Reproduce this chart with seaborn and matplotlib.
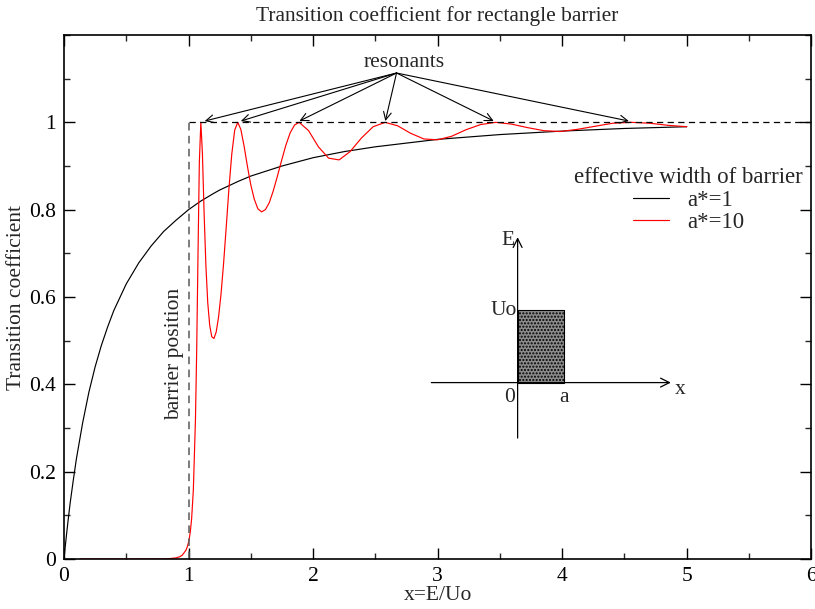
import pandas as pd
import seaborn as sns
import matplotlib.pyplot as plt
from matplotlib.patches import Rectangle
from matplotlib.ticker import MultipleLocator, FixedLocator, FormatStrFormatter

# a* = 1 curve
x_a1 = [0, 0.005, 0.01, 0.02, 0.035, 0.05, 0.075, 0.1, 0.15, 0.2, 0.25, 0.3,
        0.35, 0.4, 0.5, 0.6, 0.7, 0.8, 0.9, 1.0, 1.1, 1.2, 1.25, 1.4, 1.5,
        1.75, 2.0, 2.25, 2.5, 3.0, 3.5, 4.0, 4.5, 5.0]
t_a1 = [0, 0.014, 0.028, 0.055, 0.093, 0.129, 0.181, 0.23, 0.312, 0.382,
        0.44, 0.489, 0.531, 0.569, 0.63, 0.678, 0.717, 0.750, 0.776, 0.800,
        0.820, 0.837, 0.845, 0.865, 0.877, 0.900, 0.919, 0.933, 0.944, 0.961,
        0.972, 0.980, 0.986, 0.990]

# a* = 10 curve
x_a10 = [0.13, 0.5, 0.8, 0.85, 0.9, 0.93, 0.95, 0.98, 0.99, 1.0, 1.0015,
         1.0062, 1.0139, 1.0247, 1.0386, 1.0555, 1.0652, 1.0756, 1.0867,
         1.0987, 1.1114, 1.1249, 1.1392, 1.1542, 1.1700, 1.1866, 1.2039,
         1.2221, 1.2410, 1.2606, 1.2811, 1.3023, 1.3242, 1.3470, 1.3705,
         1.3948, 1.4198, 1.4457, 1.4723, 1.4997, 1.5278, 1.5567, 1.5864,
         1.6169, 1.6481, 1.6801, 1.7128, 1.7464, 1.7807, 1.8158, 1.8516,
         1.8883, 1.9638, 2.0425, 2.1242, 2.2090, 2.2969, 2.3879, 2.4820,
         2.5791, 2.6794, 2.7827, 2.8890, 2.9986, 3.1112, 3.2269, 3.3455,
         3.4674, 3.5924, 3.7203, 3.8514, 3.9856, 4.1227, 4.2631, 4.4065,
         4.5531, 4.7025, 4.8553, 5.0]
t_a10 = [0.0, 0.0, 0.0003, 0.0009, 0.0026, 0.0053, 0.0088, 0.0205, 0.0279,
         0.0385, 0.0405, 0.0473, 0.0619, 0.0918, 0.158, 0.319, 0.473, 0.689,
         0.908, 1.0, 0.929, 0.793, 0.673, 0.587, 0.535, 0.509, 0.505,
         0.520, 0.554, 0.606, 0.676, 0.759, 0.848, 0.927, 0.982,
         1.0, 0.984, 0.946, 0.900, 0.857, 0.824, 0.802, 0.795,
         0.800, 0.816, 0.843, 0.876, 0.912, 0.947, 0.976, 0.994,
         1.0, 0.981, 0.944, 0.918, 0.914, 0.933, 0.964, 0.990,
         1.0, 0.992, 0.975, 0.962, 0.960, 0.968, 0.983, 0.995,
         1.0, 0.996, 0.988, 0.981, 0.979, 0.984, 0.991, 0.998,
         1.0, 0.998, 0.993, 0.990]

resonances = [1.13, 1.42, 1.89, 2.58, 3.45, 4.535]
barrier = 1.0
y_ticks = [0, 0.2, 0.4, 0.6, 0.8, 1.0]

df = pd.concat([
    pd.DataFrame({"x": x_a1, "T": t_a1, "curve": "a*=1"}),
    pd.DataFrame({"x": x_a10, "T": t_a10, "curve": "a*=10"}),
])

sns.set_theme(style="ticks")
plt.rcParams['font.family'] = ['Liberation Serif', 'DejaVu Serif']
plt.rcParams['xtick.direction'] = 'in'
plt.rcParams['ytick.direction'] = 'in'
plt.rcParams['xtick.top'] = True
plt.rcParams['ytick.right'] = True

FS = 15.5

fig = plt.figure(figsize=(8.15, 6.09), dpi=100)
ax = fig.add_axes([0.0785, 0.0821, 0.917, 0.8604])

sns.lineplot(data=df, x="x", y="T", hue="curve", palette={"a*=1": "black", "a*=10": "red"},
             estimator=None, sort=False, linewidth=0.85, ax=ax)

ax.set_xlim(0, 6)
ax.set_ylim(0, 1.2)
ax.xaxis.set_major_locator(MultipleLocator(1))
ax.xaxis.set_minor_locator(MultipleLocator(0.5))
ax.yaxis.set_major_locator(FixedLocator(y_ticks))
ax.yaxis.set_minor_locator(MultipleLocator(0.1))
ax.xaxis.set_major_formatter(FormatStrFormatter('%g'))
ax.yaxis.set_major_formatter(FormatStrFormatter('%g'))
ax.tick_params(which='major', length=8, width=1, labelsize=FS, colors='black')
ax.tick_params(axis='x', which='major', pad=6)
ax.tick_params(axis='y', which='major', pad=6)
ax.tick_params(which='minor', length=4, width=1)
for s in ax.spines.values():
    s.set_linewidth(1.2)
    s.set_color('black')

ax.set_xlabel("x=E/Uo", fontsize=FS, labelpad=0)
ax.set_ylabel("Transition coefficient", fontsize=FS, labelpad=2)
ax.set_title("Transition coefficient for rectangle barrier", fontsize=FS, pad=10)

# barrier and T=1 dashed guides
ax.hlines(1, barrier, 6, colors='black', linestyles=(0, (5, 3.5)), linewidth=0.9)
ax.vlines(barrier, 0, 1, colors='0.35', linestyles=(0, (5, 3.5)), linewidth=1.1)
ax.text(0.89, 0.47, "barrier position", rotation=90, ha='center', va='center', fontsize=FS)

# resonance arrows
ax.text(2.73, 1.137, "resonants", ha='center', va='center', fontsize=FS)
for r in resonances:
    ax.annotate("", xy=(r, 1.003), xytext=(2.67, 1.113),
                arrowprops=dict(arrowstyle="->", color='black', lw=0.8,
                                shrinkA=0, shrinkB=0, mutation_scale=14))

# inset sketch of the barrier
ax.add_patch(Rectangle((3.642, 0.404), 0.372, 0.166, facecolor='0.55',
                       edgecolor='black', hatch='.....', linewidth=0.8))
ax.annotate("", xy=(4.872, 0.404), xytext=(2.949, 0.404),
            arrowprops=dict(arrowstyle="->", color='black', lw=0.9, shrinkA=0, shrinkB=0,
                            mutation_scale=16))
ax.annotate("", xy=(3.642, 0.737), xytext=(3.642, 0.277),
            arrowprops=dict(arrowstyle="->", color='black', lw=0.9, shrinkA=0, shrinkB=0,
                            mutation_scale=16))
ax.text(3.62, 0.73, "E", ha='right', va='center', fontsize=FS)
ax.text(3.64, 0.57, "Uo", ha='right', va='center', fontsize=FS)
ax.text(3.58, 0.37, "0", ha='center', va='center', fontsize=FS)
ax.text(4.014, 0.37, "a", ha='center', va='center', fontsize=FS)
ax.text(4.95, 0.388, "x", ha='center', va='center', fontsize=FS)

handles, labels = ax.get_legend_handles_labels()
ax.legend(handles, labels, title="effective width of barrier", loc='center',
          bbox_to_anchor=(0.836, 0.685), frameon=False, fontsize=16.5, title_fontsize=16.5,
          handlelength=1.6, handletextpad=0.8, labelspacing=0.05, borderpad=0)

fig.savefig("out.png", dpi=100)
